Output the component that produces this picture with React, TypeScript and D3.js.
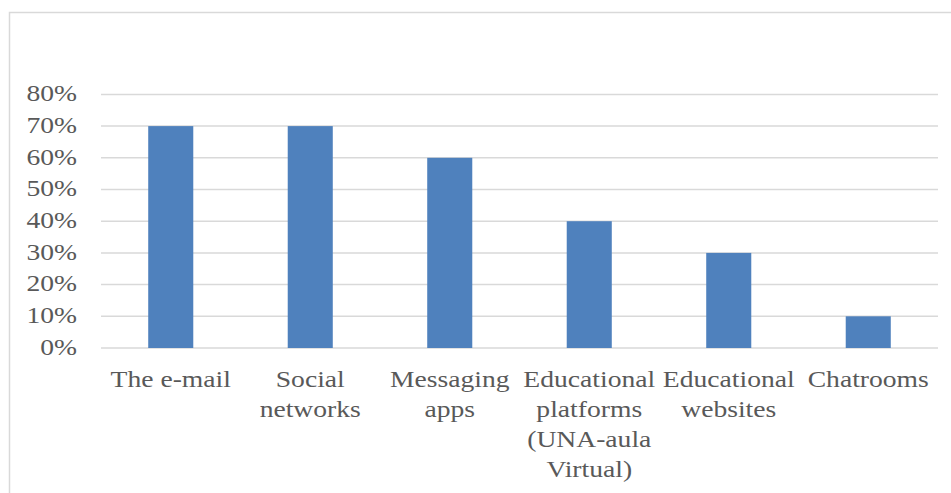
import React from "react";
import * as d3 from "d3";

const categories: string[][] = [
  ["The e-mail"],
  ["Social", "networks"],
  ["Messaging", "apps"],
  ["Educational", "platforms", "(UNA-aula", "Virtual)"],
  ["Educational", "websites"],
  ["Chatrooms"],
];
const values: number[] = [0.7, 0.7, 0.6, 0.4, 0.3, 0.1];
const yTicks: number[] = [0, 0.1, 0.2, 0.3, 0.4, 0.5, 0.6, 0.7, 0.8];

const W = 951;
const H = 493;
const plotLeft = 101;
const plotRight = 938;
const plotTop = 94.4;
const plotBottom = 348;
const FONT = "Liberation Serif, Times New Roman, Times, serif";
const TEXT = "#595959";
const GRID = "#d9d9d9";
const BAR = "#4f81bd";
const SX = 1.15;

export default function App() {
  const keys = categories.map((_, i) => String(i));
  const x = d3.scaleBand<string>().domain(keys).range([plotLeft, plotRight]).padding(0);
  const y = d3.scaleLinear().domain([0, 0.8]).range([plotBottom, plotTop]);
  const bw = x.bandwidth() * 0.323;
  const fmt = d3.format(".0%");
  const textStyle = { fontFamily: FONT, fontSize: "24px" };

  return (
    <svg
      width={W}
      height={H}
      style={{ position: "absolute", left: 0, top: 0, background: "#fff" }}
    >
      <rect x={0} y={0} width={W} height={H} fill="#fff" />
      <rect x={9.5} y={12.5} width={W + 20} height={H + 20} fill="none" stroke={GRID} strokeWidth={1.5} />
      {yTicks.map((t) => (
        <line
          key={"g" + t}
          x1={plotLeft}
          x2={plotRight}
          y1={y(t)}
          y2={y(t)}
          stroke={GRID}
          strokeWidth={1.5}
        />
      ))}
      {values.map((v, i) => {
        const cx = (x(String(i)) as number) + x.bandwidth() / 2;
        return (
          <rect
            key={"b" + i}
            x={cx - bw / 2}
            y={y(v)}
            width={bw}
            height={y(0) - y(v)}
            fill={BAR}
          />
        );
      })}
      {yTicks.map((t) => (
        <text
          key={"t" + t}
          transform={`translate(77, ${y(t) + 6.8}) scale(${SX},1)`}
          textAnchor="end"
          style={textStyle}
          fill={TEXT}
        >
          {fmt(t)}
        </text>
      ))}
      {categories.map((lines, i) => {
        const cx = (x(String(i)) as number) + x.bandwidth() / 2;
        return lines.map((ln, j) => (
          <text
            key={"c" + i + "-" + j}
            transform={`translate(${cx}, ${plotBottom + 39 + j * 30}) scale(${SX},1)`}
            textAnchor="middle"
            style={textStyle}
            fill={TEXT}
          >
            {ln}
          </text>
        ));
      })}
    </svg>
  );
}
